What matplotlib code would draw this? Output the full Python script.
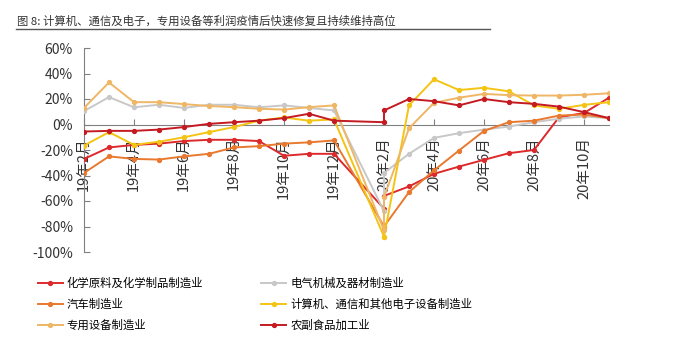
import matplotlib.pyplot as plt
import matplotlib.ticker as mticker
from matplotlib.lines import Line2D

plt.rcParams['font.family'] = ['Noto Sans CJK SC', 'DejaVu Sans']

# -- Data ----------------------------------------------------------------------
# Category axis: one slot per month (20年1月 has no data)
MONTHS = ['19年2月', '19年3月', '19年4月', '19年5月', '19年6月', '19年7月',
          '19年8月', '19年9月', '19年10月', '19年11月', '19年12月', '20年1月',
          '20年2月', '20年3月', '20年4月', '20年5月', '20年6月', '20年7月',
          '20年8月', '20年9月', '20年10月', '20年11月']

# Month of each observation; 20年2月 carries two readings per series
OBS_MONTHS = ['19年2月', '19年3月', '19年4月', '19年5月', '19年6月', '19年7月',
              '19年8月', '19年9月', '19年10月', '19年11月', '19年12月',
              '20年2月', '20年2月', '20年3月', '20年4月', '20年5月', '20年6月',
              '20年7月', '20年8月', '20年9月', '20年10月', '20年11月']

CHEM = [-27, -18, -16, -15, -13, -12, -12, -13, -24.5, -23, -23,
        -66, -56, -48.6, -38.7, -33, -27.7, -22.5, -20, 5.7, 9, 21]
ELEC = [10.5, 21.5, 13.5, 15.5, 13, 15.5, 15.5, 13.5, 15, 13, 11,
        -68, -38, -23, -10.5, -6.8, -4, -1.6, 1.8, 4.5, 6.3, 5]
AUTO = [-38, -25, -27, -27.5, -25, -23, -18, -17, -15, -14, -12.5,
        -80, -80, -53, -36, -20.4, -5, 1.8, 3, 7, 7.8, 5]
COMP = [-16.5, -6, -16, -13.5, -10, -6, -2, 3, 5.5, 3, 4,
        -88, -88, 15, 35.5, 27, 28.8, 26, 15, 12.3, 15.4, 17.5]
SPEC = [13, 33, 17.5, 17.5, 16, 14.5, 13.6, 12.3, 11.7, 13.6, 15,
        -83, -57, -3, 17, 21, 24, 23, 22.7, 22.7, 23.3, 24.5]
FOOD = [-5.5, -5, -5, -4, -2, 0.5, 1.8, 3, 5, 8.4, 3,
        1.8, 11, 20, 18.3, 15, 20, 17.5, 16.2, 14, 9.7, 5]

SERIES = [
    ('化学原料及化学制品制造业', CHEM, '#dc2a2c'),
    ('电气机械及器材制造业', ELEC, '#c8c8c8'),
    ('汽车制造业', AUTO, '#e8792f'),
    ('计算机、通信和其他电子设备制造业', COMP, '#f4c414'),
    ('专用设备制造业', SPEC, '#efb665'),
    ('农副食品加工业', FOOD, '#c41a22'),
]

TITLE = '图 8: 计算机、通信及电子，专用设备等利润疫情后快速修复且持续维持高位'

# -- Figure --------------------------------------------------------------------
fig = plt.figure(figsize=(6.76, 3.40), dpi=100)
ax = fig.add_axes([84 / 676, 88 / 340, 525 / 676, 204 / 340])

# spine placement resets the ticks, so do it before styling them
for side in ('top', 'right'):
    ax.spines[side].set_visible(False)
ax.spines['bottom'].set_position(('data', 0))
ax.spines['bottom'].set_color('#808080')
ax.spines['bottom'].set_zorder(2)
ax.spines['left'].set_color('#808080')

xs = [MONTHS.index(m) for m in OBS_MONTHS]
lines = {}
for name, vals, color in SERIES:
    ln, = ax.plot(xs, vals, color=color, lw=1.4, marker='o', ms=2.8,
                  mec=color, mfc=color, label=name, zorder=3)
    lines[name] = ln

ax.set_xlim(0, len(MONTHS) - 1)
ax.set_ylim(-100, 60)
ax.yaxis.set_major_locator(mticker.MultipleLocator(20))
ax.yaxis.set_major_formatter(mticker.FuncFormatter(lambda v, _: f'{v:.0f}%'))

tick_idx = list(range(0, len(MONTHS), 2))
ax.set_xticks(tick_idx)
ax.set_xticklabels([MONTHS[i] for i in tick_idx])
ax.tick_params(axis='both', direction='in', length=4, color='#808080',
               labelsize=10, labelcolor='#333333')
ax.tick_params(axis='x', pad=9, labelsize=10.5, labelrotation=90)
ax.tick_params(axis='y', pad=8)

# Title with rule underneath
fig.text(17 / 676, 1 - 21 / 340, TITLE, fontsize=8.2, color='#333333',
         ha='left', va='center')
fig.add_artist(Line2D([16 / 676, 490 / 676], [1 - 29 / 340, 1 - 29 / 340],
                      color='#555555', lw=1.0))

# Legend filled column by column: left column first, then right
legend_order = ['化学原料及化学制品制造业', '汽车制造业', '专用设备制造业',
                '电气机械及器材制造业', '计算机、通信和其他电子设备制造业',
                '农副食品加工业']
fig.legend(handles=[lines[n] for n in legend_order], ncol=2, loc='upper left',
           bbox_to_anchor=(33 / 676, 1 - 273 / 340), frameon=False,
           fontsize=8.2, handlelength=2.2, handletextpad=0.35,
           columnspacing=5.1, labelspacing=0.85, borderaxespad=0)

fig.savefig('out.png', dpi=100, facecolor='white')
